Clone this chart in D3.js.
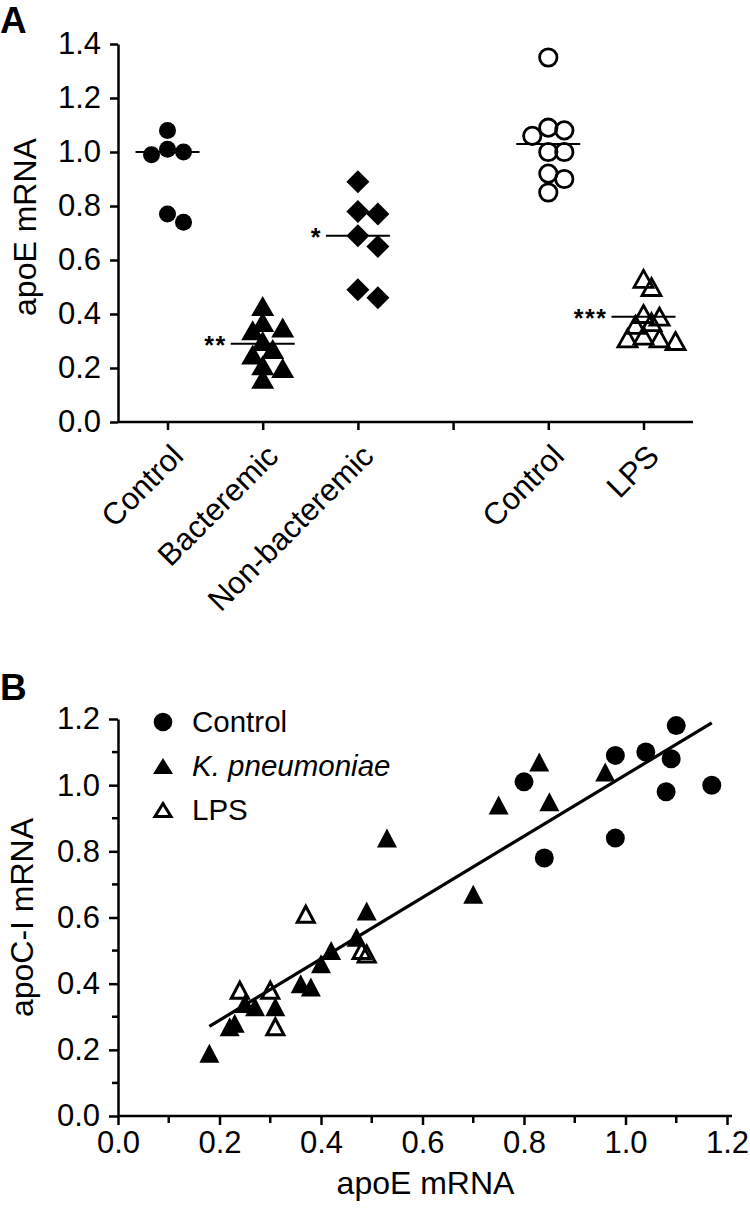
<!DOCTYPE html>
<html>
<head>
<meta charset="utf-8">
<script src="https://cdn.jsdelivr.net/npm/d3@7/dist/d3.min.js"></script>
<style>
  body { margin: 0; background: #fff; }
  svg { display: block; font-family: "Liberation Sans", Arial, sans-serif; }
  .axis path, .axis line { stroke: #000; stroke-width: 2.5; }
  .axis text { font-size: 31px; fill: #000; }
</style>
</head>
<body>
<div id="chart"></div>
<script>
// ---- panel A: apoE mRNA per group
const groupKeys = ["ctrl1", "bact", "nonbact", "gap", "ctrl2", "lps"];
const groupLabels = ["Control", "Bacteremic", "Non-bacteremic", "", "Control", "LPS"];
const controlA = [1.08, 1.01, 1.00, 0.99, 0.77, 0.74];
const bacteremic = [0.43, 0.37, 0.35, 0.34, 0.30, 0.27, 0.25, 0.21, 0.20, 0.16];
const nonBacteremic = [0.89, 0.78, 0.77, 0.69, 0.65, 0.49, 0.46];
const controlMice = [1.35, 1.09, 1.08, 1.06, 1.00, 1.00, 0.92, 0.90, 0.85];
const lpsMice = [0.53, 0.50, 0.40, 0.39, 0.37, 0.36, 0.32, 0.31, 0.31, 0.30];
const groupLines = [1.00, 0.29, 0.69, null, 1.03, 0.39];
const groupStars = ["", "**", "*", "", "", "***"];
const yTicksA = [0, 0.2, 0.4, 0.6, 0.8, 1.0, 1.2, 1.4];

// ---- panel B: apoC-I vs apoE
const ctrlX = [0.80, 0.84, 0.98, 0.98, 1.04, 1.09, 1.08, 1.10, 1.17];
const ctrlY = [1.01, 0.78, 1.09, 0.84, 1.10, 1.08, 0.98, 1.18, 1.00];
const kpX = [0.18, 0.22, 0.23, 0.25, 0.27, 0.31, 0.36, 0.38, 0.40, 0.42, 0.47, 0.49, 0.53, 0.70, 0.75, 0.83, 0.85, 0.96];
const kpY = [0.19, 0.27, 0.28, 0.34, 0.33, 0.33, 0.40, 0.39, 0.46, 0.50, 0.54, 0.62, 0.84, 0.67, 0.94, 1.07, 0.95, 1.04];
const lpsX = [0.24, 0.30, 0.31, 0.37, 0.48, 0.49];
const lpsY = [0.38, 0.38, 0.27, 0.61, 0.50, 0.49];
const legendNames = ["Control", "K. pneumoniae", "LPS"];
const majorTicksB = [0, 0.2, 0.4, 0.6, 0.8, 1.0, 1.2];
const minorTicksB = [0.1, 0.3, 0.5, 0.7, 0.9, 1.1];

const W = 750, H = 1208;
const svg = d3.select("#chart").append("svg").attr("width", W).attr("height", H);

const fmt = d3.format(".1f");

function triPath(w, h) {
  return `M0,${-h / 2}L${w / 2},${h / 2}L${-w / 2},${h / 2}Z`;
}
function diamondPath(s) {
  return `M0,${-s}L${s},0L0,${s}L${-s},0Z`;
}

// simple side-by-side placement, like a dot plot
function swarm(values, y, cx, minDist, step) {
  const placed = [];
  values.forEach(v => {
    const py = y(v);
    const offs = [0];
    for (let k = 1; k < 12; k++) offs.push(k * step, -k * step);
    for (const dx of offs) {
      const px = cx + dx;
      if (placed.every(p => Math.hypot(p.x - px, p.y - py) >= minDist)) {
        placed.push({ x: px, y: py, v });
        break;
      }
    }
  });
  return placed;
}

// ================= PANEL A =================
const A = { left: 118, right: 693, top: 44, bottom: 422 };
const xA = d3.scalePoint().domain(groupKeys).range([A.left, A.right]).padding(0.52);
const yA = d3.scaleLinear().domain([0, 1.4]).range([A.bottom, A.top]);

svg.append("text").attr("x", 0).attr("y", 33)
  .attr("font-size", 37).attr("font-weight", "bold").text("A");

svg.append("g").attr("class", "axis")
  .attr("transform", `translate(${A.left},0)`)
  .call(d3.axisLeft(yA).tickValues(yTicksA).tickFormat(fmt).tickSize(8).tickSizeOuter(0).tickPadding(9));

const xAxisA = svg.append("g").attr("class", "axis")
  .attr("transform", `translate(0,${A.bottom})`)
  .call(d3.axisBottom(xA).tickSize(8).tickSizeOuter(0).tickFormat((d, i) => groupLabels[i]));
xAxisA.select(".domain").attr("d", `M${A.left},0H${A.right}`);
xAxisA.selectAll("text")
  .attr("text-anchor", "end")
  .attr("x", 0).attr("y", 0).attr("dy", 0)
  .attr("transform", "translate(17,36) rotate(-45)")
  .attr("font-size", 33);

svg.append("text")
  .attr("transform", `translate(36,${(A.top + A.bottom) / 2 - 6}) rotate(-90)`)
  .attr("text-anchor", "middle").attr("font-size", 32).text("apoE mRNA");

const groupsA = [
  { key: "ctrl1", vals: controlA, shape: "circle", fill: true },
  { key: "bact", vals: bacteremic, shape: "tri", fill: true },
  { key: "nonbact", vals: nonBacteremic, shape: "diamond", fill: true },
  { key: "ctrl2", vals: controlMice, shape: "circle", fill: false },
  { key: "lps", vals: lpsMice, shape: "tri", fill: false }
];

const gA = svg.append("g");
groupsA.forEach(g => {
  const cx = xA(g.key);
  let pts;
  if (g.shape === "circle") pts = swarm(g.vals, yA, cx, 14, 8);
  else if (g.shape === "diamond") pts = swarm(g.vals, yA, cx, 15, 10);
  else pts = swarm(g.vals, yA, cx, g.fill ? 12 : 9, g.fill ? 10 : 8);

  const sel = gA.append("g").selectAll("path").data(pts).join("path")
    .attr("transform", d => `translate(${d.x},${d.y})`);
  if (g.shape === "circle") {
    sel.attr("d", d3.symbol(d3.symbolCircle, g.fill ? Math.PI * 8.5 * 8.5 : Math.PI * 8.7 * 8.7)());
  } else if (g.shape === "diamond") {
    sel.attr("d", diamondPath(11.5));
  } else {
    sel.attr("d", g.fill ? triPath(23, 20) : triPath(19, 17));
  }
  if (g.fill) sel.attr("fill", "#000");
  else sel.attr("fill", "none").attr("stroke", "#000").attr("stroke-width", 2.8).attr("stroke-linejoin", "miter");
});

// group centre lines and significance marks
const lineIdx = groupKeys.map((k, i) => i).filter(i => groupLines[i] != null);
svg.append("g").selectAll("line").data(lineIdx).join("line")
  .attr("x1", i => xA(groupKeys[i]) - 32).attr("x2", i => xA(groupKeys[i]) + 32)
  .attr("y1", i => yA(groupLines[i])).attr("y2", i => yA(groupLines[i]))
  .attr("stroke", "#000").attr("stroke-width", 2);
svg.append("g").selectAll("text").data(lineIdx.filter(i => groupStars[i])).join("text")
  .attr("x", i => xA(groupKeys[i]) - 36)
  .attr("y", i => yA(groupLines[i]) + 10)
  .attr("text-anchor", "end").attr("font-size", 25).attr("font-weight", "bold")
  .attr("letter-spacing", 1.5)
  .text(i => groupStars[i]);

// ================= PANEL B =================
const B = { left: 118, right: 727, top: 719, bottom: 1116 };
const xB = d3.scaleLinear().domain([0, 1.2]).range([B.left, B.right]);
const yB = d3.scaleLinear().domain([0, 1.2]).range([B.bottom, B.top]);

svg.append("text").attr("x", 0).attr("y", 700)
  .attr("font-size", 37).attr("font-weight", "bold").text("B");

const yAxisB = svg.append("g").attr("class", "axis")
  .attr("transform", `translate(${B.left},0)`);
yAxisB.call(d3.axisLeft(yB).tickValues(majorTicksB).tickFormat(fmt).tickSize(9).tickSizeOuter(0).tickPadding(9));
yAxisB.append("g").selectAll("line").data(minorTicksB).join("line")
  .attr("x1", -6).attr("x2", 0).attr("y1", d => yB(d)).attr("y2", d => yB(d));

const xAxisB = svg.append("g").attr("class", "axis")
  .attr("transform", `translate(0,${B.bottom})`);
xAxisB.call(d3.axisBottom(xB).tickValues(majorTicksB).tickFormat(fmt).tickSize(9).tickSizeOuter(0).tickPadding(6));
xAxisB.select(".domain").attr("d", `M${B.left},0H${B.right + 5}`);
xAxisB.append("g").selectAll("line").data(minorTicksB).join("line")
  .attr("y1", 0).attr("y2", 7).attr("x1", d => xB(d)).attr("x2", d => xB(d));

svg.append("text")
  .attr("x", (B.left + B.right) / 2 + 3).attr("y", 1194)
  .attr("text-anchor", "middle").attr("font-size", 32).text("apoE mRNA");
svg.append("text")
  .attr("transform", `translate(33,${(B.top + B.bottom) / 2}) rotate(-90)`)
  .attr("text-anchor", "middle").attr("font-size", 32).text("apoC-I mRNA");

// regression line over all animals
const allX = ctrlX.concat(kpX, lpsX);
const allY = ctrlY.concat(kpY, lpsY);
const mx = d3.mean(allX), my = d3.mean(allY);
const slope = d3.sum(allX, (x, i) => (x - mx) * (allY[i] - my)) / d3.sum(allX, x => (x - mx) * (x - mx));
const icpt = my - slope * mx;
const xr = d3.extent(allX);
svg.append("line")
  .attr("x1", xB(xr[0])).attr("y1", yB(icpt + slope * xr[0]))
  .attr("x2", xB(xr[1])).attr("y2", yB(icpt + slope * xr[1]))
  .attr("stroke", "#000").attr("stroke-width", 3.2);

const gB = svg.append("g");
gB.append("g").selectAll("circle").data(ctrlX).join("circle")
  .attr("cx", d => xB(d)).attr("cy", (d, i) => yB(ctrlY[i])).attr("r", 9.5).attr("fill", "#000");
gB.append("g").selectAll("path").data(kpX).join("path")
  .attr("transform", (d, i) => `translate(${xB(d)},${yB(kpY[i])})`)
  .attr("d", triPath(20, 19)).attr("fill", "#000");
gB.append("g").selectAll("path").data(lpsX).join("path")
  .attr("transform", (d, i) => `translate(${xB(d)},${yB(lpsY[i])})`)
  .attr("d", triPath(17, 16)).attr("fill", "#fff").attr("fill-opacity", 0)
  .attr("stroke", "#000").attr("stroke-width", 3);

// legend
const leg = svg.append("g");
const legY = d3.scalePoint().domain(legendNames).range([722, 810]);
leg.append("circle").attr("cx", 163).attr("cy", legY(legendNames[0])).attr("r", 9.3).attr("fill", "#000");
leg.append("path").attr("transform", `translate(163,${legY(legendNames[1])})`)
  .attr("d", triPath(20, 16)).attr("fill", "#000");
leg.append("path").attr("transform", `translate(163,${legY(legendNames[2])})`)
  .attr("d", triPath(16, 13)).attr("fill", "none").attr("stroke", "#000").attr("stroke-width", 3);
leg.selectAll("text").data(legendNames).join("text")
  .attr("x", 192).attr("y", d => legY(d) + 10)
  .attr("font-size", 29.5)
  .attr("font-style", (d, i) => i === 1 ? "italic" : "normal")
  .text(d => d);
</script>
</body>
</html>
